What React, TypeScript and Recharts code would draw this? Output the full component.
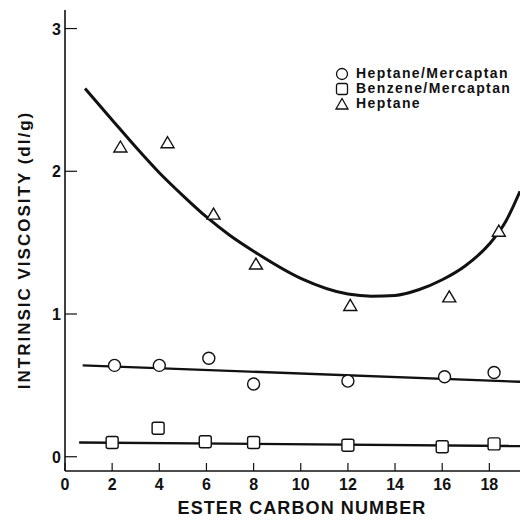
import { ComposedChart, Line, Scatter, XAxis, YAxis } from 'recharts'

// measured points
const hmX = [2.1, 4.0, 6.1, 8.0, 12.0, 16.1, 18.2]
const hmY = [0.64, 0.64, 0.69, 0.51, 0.53, 0.56, 0.59]

const bmX = [2.0, 3.95, 5.95, 8.0, 12.0, 16.0, 18.2]
const bmY = [0.1, 0.2, 0.105, 0.1, 0.08, 0.07, 0.09]

const hX = [2.35, 4.35, 6.3, 8.1, 12.1, 16.3, 18.4]
const hY = [2.17, 2.2, 1.7, 1.35, 1.06, 1.12, 1.58]

// fitted curves
const hFitX = [0.85, 2, 3, 4, 5, 6, 7, 8, 10, 12, 13, 14, 15, 16, 17, 18, 18.7, 19.3]
const hFitY = [2.58, 2.36, 2.17, 1.99, 1.83, 1.68, 1.55, 1.44, 1.25, 1.14, 1.125, 1.13, 1.17, 1.24, 1.34, 1.49, 1.65, 1.86]
const hmFitX = [0.75, 19.3]
const hmFitY = [0.64, 0.525]
const bmFitX = [0.6, 19.3]
const bmFitY = [0.1, 0.075]

const xTicks = [0, 2, 4, 6, 8, 10, 12, 14, 16, 18]
const yTicks = [0, 1, 2, 3]

const zip = (xs: number[], ys: number[]) => xs.map((x, i) => ({ x, y: ys[i] }))

const FONT = '"Liberation Sans", Arial, sans-serif'
const INK = '#111'

const circle = (p: any) => (
  <circle cx={p.cx} cy={p.cy} r={6} fill="#fff" stroke={INK} strokeWidth={1.4} />
)
const square = (p: any) => (
  <rect x={p.cx - 6} y={p.cy - 6} width={12} height={12} rx={2} fill="#fff" stroke={INK} strokeWidth={1.4} />
)
const triangle = (p: any) => (
  <path
    d={`M${p.cx},${p.cy - 6} L${p.cx + 6.5},${p.cy + 5} L${p.cx - 6.5},${p.cy + 5} Z`}
    fill="#fff"
    stroke={INK}
    strokeWidth={1.4}
  />
)

const XTick = (p: any) => (
  <g>
    <line x1={p.x} x2={p.x} y1={p.y} y2={p.y - 8} stroke={INK} strokeWidth={1.2} />
    <text x={p.x} y={p.y + 19} textAnchor="middle" fontFamily={FONT} fontWeight="bold" fontSize={16} fill={INK}>
      {p.payload.value}
    </text>
  </g>
)

const YTick = (p: any) => (
  <g>
    <line x1={p.x} x2={p.x + 12} y1={p.y} y2={p.y} stroke={INK} strokeWidth={1.2} />
    <text x={p.x - 4} y={p.y + 6} textAnchor="end" fontFamily={FONT} fontWeight="bold" fontSize={16} fill={INK}>
      {p.payload.value}
    </text>
  </g>
)

const legendRows = [
  { label: 'Heptane/Mercaptan', icon: <circle cx={7} cy={7} r={5.5} fill="#fff" stroke={INK} strokeWidth={1.3} /> },
  { label: 'Benzene/Mercaptan', icon: <rect x={1.5} y={1.5} width={11} height={11} rx={2} fill="#fff" stroke={INK} strokeWidth={1.3} /> },
  { label: 'Heptane', icon: <path d="M7,1.5 L13,12 L1,12 Z" fill="#fff" stroke={INK} strokeWidth={1.3} /> },
]

export default function App() {
  return (
    <div style={{ position: 'absolute', left: 0, top: 0, width: 523, height: 520, background: '#fff' }}>
      <ComposedChart width={523} height={520} margin={{ top: 10, right: 3, bottom: 48, left: 64 }}>
        <XAxis
          type="number"
          dataKey="x"
          domain={[0, 19.3]}
          ticks={xTicks}
          allowDataOverflow
          height={1}
          tickSize={0}
          tickMargin={0}
          tickLine={false}
          axisLine={{ stroke: INK, strokeWidth: 1.6 }}
          tick={XTick}
          interval={0}
          label={{
            content: () => (
              <text x={302} y={514} textAnchor="middle" fontFamily={FONT} fontWeight="bold" fontSize={18} letterSpacing={1.1} fill={INK}>
                ESTER CARBON NUMBER
              </text>
            ),
          }}
        />
        <YAxis
          type="number"
          dataKey="y"
          domain={[-0.1, 3.13]}
          ticks={yTicks}
          allowDataOverflow
          width={1}
          tickSize={0}
          tickMargin={0}
          tickLine={false}
          axisLine={{ stroke: INK, strokeWidth: 1.6 }}
          tick={YTick}
          interval={0}
          label={{
            content: () => (
              <text
                x={30}
                y={250}
                transform="rotate(-90 30 250)"
                textAnchor="middle"
                fontFamily={FONT}
                fontWeight="bold"
                fontSize={17}
                letterSpacing={2}
                fill={INK}
              >
                INTRINSIC VISCOSITY (dl/g)
              </text>
            ),
          }}
        />
        <Line data={zip(hFitX, hFitY)} dataKey="y" type="monotone" stroke={INK} strokeWidth={3} dot={false} activeDot={false} isAnimationActive={false} />
        <Line data={zip(hmFitX, hmFitY)} dataKey="y" type="linear" stroke={INK} strokeWidth={2.4} dot={false} activeDot={false} isAnimationActive={false} />
        <Line data={zip(bmFitX, bmFitY)} dataKey="y" type="linear" stroke={INK} strokeWidth={2.4} dot={false} activeDot={false} isAnimationActive={false} />
        <Scatter data={zip(hmX, hmY)} dataKey="y" shape={circle} isAnimationActive={false} />
        <Scatter data={zip(bmX, bmY)} dataKey="y" shape={square} isAnimationActive={false} />
        <Scatter data={zip(hX, hY)} dataKey="y" shape={triangle} isAnimationActive={false} />
      </ComposedChart>
      <div style={{ position: 'absolute', left: 335, top: 66, fontFamily: FONT, fontWeight: 'bold', fontSize: 14, letterSpacing: 1.4, color: INK, lineHeight: '15px' }}>
        {legendRows.map((r) => (
          <div key={r.label} style={{ display: 'flex', alignItems: 'center' }}>
            <svg width={14} height={14} style={{ marginRight: 7 }}>
              {r.icon}
            </svg>
            <span>{r.label}</span>
          </div>
        ))}
      </div>
    </div>
  )
}
